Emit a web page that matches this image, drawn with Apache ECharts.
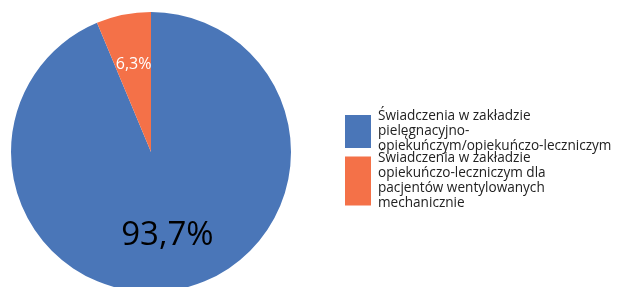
<!DOCTYPE html>
<html>
<head>
<meta charset="utf-8">
<script src="https://cdn.jsdelivr.net/npm/echarts@6/dist/echarts.min.js"></script>
<style>
  html, body { margin: 0; padding: 0; background: #fff; }
  #chart { width: 617px; height: 287px; }
</style>
</head>
<body>
<div id="chart"></div>
<script>
const categories = [
  'Świadczenia w zakładzie\npielęgnacyjno-\nopiekuńczym/opiekuńczo-leczniczym',
  'Świadczenia w zakładzie\nopiekuńczo-leczniczym dla\npacjentów wentylowanych\nmechanicznie'
]
const shares = [93.7, 6.3]
const colors = ['#4a76b8', '#f47148']

const chart = echarts.init(document.getElementById('chart'))

const legendBase = {
  orient: 'vertical',
  left: 340,
  itemWidth: 26,
  itemGap: 0,
  icon: 'rect',
  selectedMode: false,
  textStyle: {
    fontFamily: 'Open Sans',
    fontSize: 13.6,
    lineHeight: 15,
    color: '#222',
    padding: [0, 0, 0, 2],
  },
}

chart.setOption({
  animation: false,
  legend: [
    { ...legendBase, data: [categories[0]], top: 104, itemHeight: 33 },
    { ...legendBase, data: [categories[1]], top: 146, itemHeight: 49 },
  ],
  series: [
    {
      type: 'pie',
      center: [151, 152],
      radius: 140,
      startAngle: 90,
      clockwise: true,
      data: shares.map((v, i) => ({
        name: categories[i],
        value: v,
        itemStyle: { color: colors[i] },
        label: i === 0
          ? { fontSize: 33, color: '#000', offset: [2, 12] }
          : { fontSize: 16, color: '#fff', offset: [-3, -16] },
      })),
      label: {
        show: true,
        position: 'inside',
        fontFamily: 'Open Sans',
        formatter: p => p.value.toFixed(1).replace('.', ',') + '%',
      },
      labelLine: { show: false },
      emphasis: { disabled: true },
    },
  ],
})
</script>
</body>
</html>
